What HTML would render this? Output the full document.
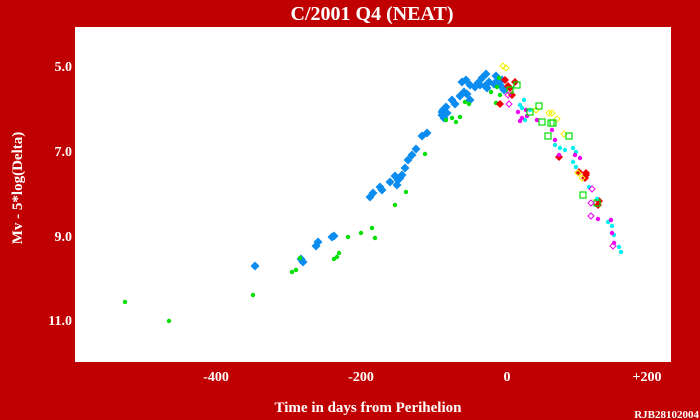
<!DOCTYPE html>
<html><head><meta charset="utf-8"><style>
html,body{margin:0;padding:0;background:#c00000;}
svg{display:block}
text{font-family:"Liberation Serif",serif;font-weight:bold;fill:#fff}
</style></head><body>
<svg id="s" width="700" height="420" xmlns="http://www.w3.org/2000/svg">
<rect width="700" height="420" fill="#c00000"/>
<rect x="75" y="27" width="596" height="335" fill="#fff"/>
<text x="372" y="20" font-size="20" text-anchor="middle">C/2001 Q4 (NEAT)</text>
<text x="72" y="71" font-size="14" text-anchor="end">5.0</text>
<text x="72" y="156" font-size="14" text-anchor="end">7.0</text>
<text x="72" y="241" font-size="14" text-anchor="end">9.0</text>
<text x="72" y="325" font-size="14" text-anchor="end">11.0</text>
<text x="216" y="381" font-size="14" text-anchor="middle">-400</text>
<text x="361" y="381" font-size="14" text-anchor="middle">-200</text>
<text x="507" y="381" font-size="14" text-anchor="middle">0</text>
<text x="647" y="381" font-size="14" text-anchor="middle">+200</text>
<text x="368" y="412" font-size="15" text-anchor="middle">Time in days from Perihelion</text>
<text x="699" y="418" font-size="11" text-anchor="end">RJB28102004</text>
<text transform="translate(22,188) rotate(-90)" font-size="15" text-anchor="middle">Mv - 5*log(Delta)</text>
<g id="g"></g>
</svg>
<script>
var g=document.getElementById('g'),h='';
function dia(x,y,r,c,open){h+='<path d="M'+x+' '+(y-r)+'L'+(x+r)+' '+y+'L'+x+' '+(y+r)+'L'+(x-r)+' '+y+'Z" '+(open?'fill="none" stroke="'+c+'" stroke-width="1"':'fill="'+c+'"')+'/>';}
function dot(x,y,c){h+='<circle cx="'+x+'" cy="'+y+'" r="2.2" fill="'+c+'"/>';}
function sq(x,y,c){h+='<rect x="'+(x-3)+'" y="'+(y-3)+'" width="6" height="6" fill="none" stroke="'+c+'" stroke-width="1.2"/>';}
var blue=[[255,266],[301,259],[303,262],[316,246],[318,242],[332,237],[334,236],[370,197],[373,193],[380,187],[382,190],[390,182],[395,176],[400,178],[398,180],[402,175],[397,185],[405,168],[408,160],[412,155],[416,149],[422,136],[427,133],[442,115],[443,110],[446,107],[452,100],[455,104],[460,96],[464,92],[467,94],[470,100],[462,82],[466,80],[470,85],[475,87],[478,83],[482,78],[486,74],[489,82],[494,84],[498,80],[502,80],[487,88],[480,85],[442,112],[500,85],[504,90],[496,76],[485,86],[444,118],[447,113]];
blue.forEach(p=>dia(p[0],p[1],4.5,'#0a8cf0'));
var gr=[[125,302],[169,321],[253,295],[292,272],[296,270],[300,258],[334,259],[337,257],[339,253],[348,237],[361,233],[372,228],[375,238],[395,205],[406,192],[425,154],[446,120],[452,118],[456,122],[460,117],[465,102],[469,104],[496,103],[500,95],[497,87],[491,92],[499,78]];
gr.forEach(p=>dot(p[0],p[1],'#00e000'));
[[505,80],[515,82],[500,104],[510,88],[512,95],[508,86],[559,157],[579,172],[585,178],[586,175],[598,205],[586,173],[599,201]].forEach(p=>dia(p[0],p[1],4,'#f00000'));
[[555,145],[565,150],[573,148],[576,152],[573,162],[576,167],[589,187],[597,199],[608,222],[612,226],[614,235],[619,247],[621,252],[520,105],[530,110],[525,120],[524,100],[522,108],[560,148]].forEach(p=>dot(p[0],p[1],'#00f0f0'));
[[520,121],[537,120],[552,130],[555,140],[559,155],[575,155],[580,158],[598,219],[611,220],[612,233],[614,243],[526,110],[522,118],[518,112],[527,116]].forEach(p=>dot(p[0],p[1],'#f000f0'));
[[503,66],[506,68],[549,113],[552,113],[557,119],[564,134],[578,173],[582,178],[536,110]].forEach(p=>dia(p[0],p[1],3,'#f0f000',true));
[[530,112],[539,106],[542,122],[548,136],[551,123],[553,123],[569,136],[583,195],[597,203],[510,90],[517,85]].forEach(p=>sq(p[0],p[1],'#00e000'));
[[508,95],[509,104],[592,189],[591,203],[591,216],[613,246]].forEach(p=>dia(p[0],p[1],3,'#f000f0',true));
g.innerHTML=h;
</script>
</body></html>
